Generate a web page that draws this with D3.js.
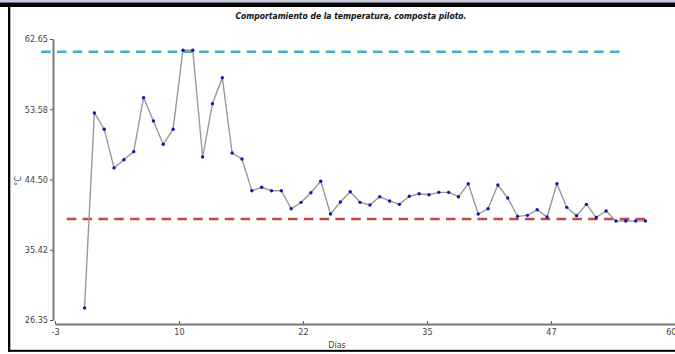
<!DOCTYPE html>
<html>
<head>
<meta charset="utf-8">
<script src="https://cdn.jsdelivr.net/npm/d3@7"></script>
<style>
  html, body { margin: 0; padding: 0; background: #fff; }
  svg { display: block; }
  text { font-family: "Liberation Sans Narrow", "DejaVu Sans Condensed", "Liberation Sans", sans-serif; }
</style>
</head>
<body>
<svg id="chart" width="675" height="354"></svg>
<script>
// Daily temperature readings of the pilot compost pile
const days = [0, 1, 2, 3, 4, 5, 6, 7, 8, 9, 10, 11, 12, 13, 14, 15, 16, 17, 18, 19,
              20, 21, 22, 23, 24, 25, 26, 27, 28, 29, 30, 31, 32, 33, 34, 35, 36, 37, 38, 39,
              40, 41, 42, 43, 44, 45, 46, 47, 48, 49, 50, 51, 52, 53, 54, 55, 56, 57];
const temps = [27.9, 53.1, 51.0, 46.0, 47.05, 48.1, 55.07, 52.05, 49.05, 51.0,
               61.2, 61.2, 47.4, 54.3, 57.65, 47.92, 47.15, 43.05, 43.49, 43.05,
               43.05, 40.72, 41.55, 42.79, 44.27, 40.04, 41.6, 42.92, 41.55, 41.2,
               42.28, 41.72, 41.29, 42.33, 42.66, 42.53, 42.84, 42.84, 42.28, 43.95,
               40.04, 40.72, 43.79, 42.11, 39.74, 39.87, 40.6, 39.65, 43.95, 40.9,
               39.82, 41.29, 39.61, 40.43, 39.14, 39.14, 39.14, 39.14];

// Reference limits (upper and lower), with the day span each line covers
const upperLimit = 61.0;
const upperSpan = [-4.4, 54.8];
const lowerLimit = 39.4;
const lowerSpan = [-1.8, 57.3];

// Axis ticks
const yTicks = [26.35, 35.425, 44.50, 53.575, 62.65];
const yTickLabels = ["26.35", "35.42", "44.50", "53.58", "62.65"];
const xTicks = [-3, 9.6, 22.2, 34.8, 47.4, 60];
const xTickLabels = ["-3", "10", "22", "35", "47", "60"];

const titleText = "Comportamiento de la temperatura, composta piloto.";
const xTitle = "Días";
const yTitle = "°C";

const svg = d3.select("#chart");

// Frame of the figure
svg.append("rect").attr("x", 0).attr("y", 0).attr("width", 675).attr("height", 2.5).attr("fill", "#c8cce0");
svg.append("rect").attr("x", 0).attr("y", 2.5).attr("width", 675).attr("height", 4.5).attr("fill", "#000");
svg.append("rect").attr("x", 8).attr("y", 7).attr("width", 2.3).attr("height", 345).attr("fill", "#000");
svg.append("rect").attr("x", 8).attr("y", 349.8).attr("width", 667).attr("height", 2).attr("fill", "#000");

const x = d3.scaleLinear().domain([-3, 60]).range([55, 675]);
const y = d3.scaleLinear().domain([26.35, 62.65]).range([320, 39]);

// Title
svg.append("text")
  .attr("x", 351).attr("y", 19)
  .attr("text-anchor", "middle")
  .attr("font-size", 8.5)
  .attr("font-weight", "bold")
  .attr("font-style", "italic")
  .attr("fill", "#111")
  .text(titleText);

// Y axis
const yAxis = d3.axisLeft(y)
  .tickValues(yTicks)
  .tickFormat((d, i) => yTickLabels[i])
  .tickSize(3)
  .tickSizeOuter(0)
  .tickPadding(2);
const gy = svg.append("g").attr("transform", "translate(53,0)").call(yAxis);
gy.select(".domain").attr("stroke", "#7a7a7a").attr("stroke-width", 2);
gy.selectAll(".tick line").attr("stroke", "#555").attr("stroke-width", 1);
gy.selectAll(".tick text").attr("font-size", 9).attr("fill", "#444")
  .attr("font-family", "'Liberation Sans Narrow', 'DejaVu Sans Condensed', sans-serif");

// X axis
const xAxis = d3.axisBottom(x)
  .tickValues(xTicks)
  .tickFormat((d, i) => xTickLabels[i])
  .tickSize(-3)
  .tickSizeOuter(0)
  .tickPadding(5);
const gx = svg.append("g").attr("transform", "translate(0,324)").call(xAxis);
gx.select(".domain").attr("stroke", "#7a7a7a").attr("stroke-width", 2);
gx.selectAll(".tick line").attr("stroke", "#555").attr("stroke-width", 1);
gx.selectAll(".tick text").attr("font-size", 9).attr("fill", "#444")
  .attr("font-family", "'Liberation Sans Narrow', 'DejaVu Sans Condensed', sans-serif");
// keep the last label inside the right edge
gx.selectAll(".tick text").filter((d, i, n) => i === n.length - 1)
  .attr("text-anchor", "end").attr("dx", 1);

// Axis titles
svg.append("text")
  .attr("x", 337).attr("y", 348)
  .attr("text-anchor", "middle")
  .attr("font-size", 9).attr("fill", "#444")
  .text(xTitle);
svg.append("text")
  .attr("transform", "translate(21,181) rotate(-90)")
  .attr("text-anchor", "middle")
  .attr("font-size", 9).attr("fill", "#444")
  .text(yTitle);

// Reference lines
svg.append("line")
  .attr("x1", x(upperSpan[0])).attr("x2", x(upperSpan[1]))
  .attr("y1", y(upperLimit)).attr("y2", y(upperLimit))
  .attr("stroke", "#3fb0cc").attr("stroke-width", 2.6)
  .attr("stroke-dasharray", "9.5,6.3");
svg.append("line")
  .attr("x1", x(lowerSpan[0])).attr("x2", x(lowerSpan[1]))
  .attr("y1", y(lowerLimit)).attr("y2", y(lowerLimit))
  .attr("stroke", "#cc4444").attr("stroke-width", 2.6)
  .attr("stroke-dasharray", "9.5,6.3");

// Temperature series
const series = days.map((d, i) => ({ day: d, temp: temps[i] }));
svg.append("path")
  .datum(series)
  .attr("fill", "none")
  .attr("stroke", "#9a9a9a")
  .attr("stroke-width", 1.4)
  .attr("d", d3.line().x(d => x(d.day)).y(d => y(d.temp)));

svg.append("g").selectAll("circle")
  .data(series)
  .join("circle")
  .attr("cx", d => x(d.day))
  .attr("cy", d => y(d.temp))
  .attr("r", 1.7)
  .attr("fill", "#1414b4");
</script>
</body>
</html>
